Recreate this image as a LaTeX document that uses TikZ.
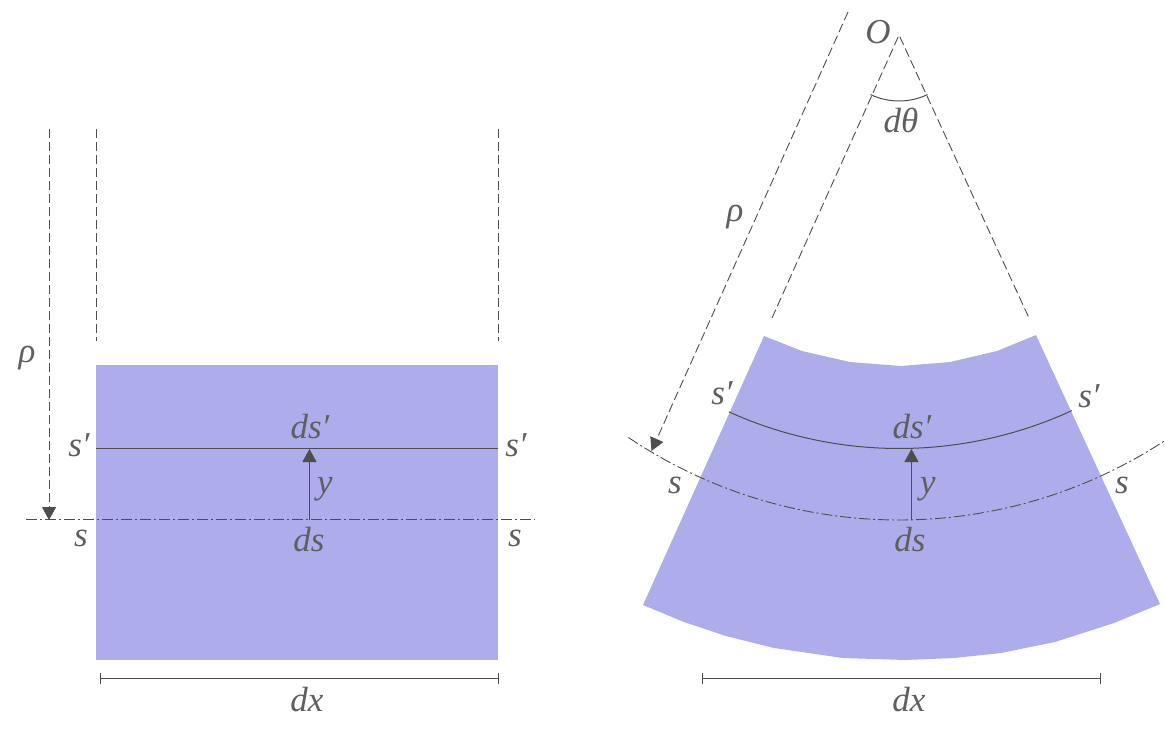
\documentclass[tikz,border=0pt]{standalone}
\usepackage{fontspec}
\setmainfont{Liberation Serif}
\usetikzlibrary{arrows.meta}
\definecolor{fillc}{HTML}{AEADEC}
\definecolor{linec}{HTML}{4D4D4D}
\definecolor{textc}{HTML}{5F5F5F}
\tikzset{
  lab/.style={anchor=base,inner sep=0pt,text=textc,font=\fontsize{35}{35}\selectfont\itshape},
  body/.style={fill=fillc,draw=none},
  line/.style={draw=linec,line width=1.0pt},
  dim/.style={draw=linec,line width=0.85pt,{Bar[width=11pt,length=0pt]}-{Bar[width=11pt,length=0pt]}},
  guide/.style={draw=linec,line width=0.9pt,dash pattern=on 9pt off 4pt},
  axis/.style={draw=linec,line width=0.9pt,dash pattern=on 11pt off 3pt on 2pt off 3pt},
  tip/.style={-{Triangle[length=13pt,width=14pt,color=linec]}}
}
\begin{document}
\begin{tikzpicture}[x=1pt,y=-1pt]
\useasboundingbox (0,0) rectangle (1165,740);
% left
\path[body] (96,365) rectangle (498,660);
\coordinate (LA) at (49,129); \coordinate (LB) at (49,520);
\coordinate (LC) at (96,129); \coordinate (LD) at (96,341);
\coordinate (LE) at (498,129); \coordinate (LF) at (498,341);
\coordinate (LG) at (26,519.5); \coordinate (LH) at (535,519.5);
\coordinate (LI) at (96,448.5); \coordinate (LJ) at (498,448.5);
\coordinate (LK) at (309.5,519.5); \coordinate (LL) at (309.5,449);
\coordinate (LM) at (99.5,678); \coordinate (LN) at (498.5,678);
\draw[guide,tip] (LA) -- (LB);
\draw[guide] (LC) -- (LD);
\draw[guide] (LE) -- (LF);
\draw[axis] (LG) -- (LH);
\draw[line] (LI) -- (LJ);
\draw[line,tip] (LK) -- (LL);
\draw[dim] (LM) -- (LN);
\node[lab] (l1) at (27,362) {ρ};
\node[lab] (l2) at (79,456) {s′};
\node[lab] (l3) at (81,546) {s};
\node[lab] (l4) at (310,438) {ds′};
\node[lab] (l5) at (325,493) {y};
\node[lab] (l6) at (309,551) {ds};
\node[lab] (l7) at (516,456) {s′};
\node[lab] (l8) at (515,546) {s};
\node[lab] (l9) at (307,711) {dx};
% right
\path[body] (764,336) -- (802,351) -- (850,362) -- (901,366) -- (950,362) -- (997,351) -- (1036,335)
  -- (1160,604) -- (1114,623) -- (1055,642) -- (1001,653) -- (954,658) -- (905,660) -- (843,658)
  -- (774,648) -- (726,636) -- (684,622) -- (643,605) -- cycle;
\coordinate (O) at (899,35);
\coordinate (RA) at (772,318); \coordinate (RB) at (1029,318);
\coordinate (RC) at (848,12); \coordinate (RD) at (651.5,451);
\coordinate (RK) at (911.5,519.5); \coordinate (RL) at (911.5,449);
\coordinate (RM) at (701.5,678); \coordinate (RN) at (1101,678);
\draw[guide] (RA) -- (O) -- (RB);
\draw[guide,tip] (RC) -- (RD);
\draw[axis] plot[domain=-33.9:33.4,samples=80,smooth] ({899+485*sin(\x)},{35+485*cos(\x)});
\draw[line] plot[domain=-24.3:24.7,samples=60,smooth] ({899+413.5*sin(\x)},{35+413.5*cos(\x)});
\draw[line] plot[domain=-25.5:25.5,samples=30,smooth] ({899+66*sin(\x)},{35+66*cos(\x)});
\draw[line,tip] (RK) -- (RL);
\draw[dim] (RM) -- (RN);
\node[lab] (r1) at (878,43) {O};
\node[lab] (r2) at (901,132) {dθ};
\node[lab] (r3) at (735,221) {ρ};
\node[lab] (r4) at (722,404) {s′};
\node[lab] (r5) at (1089,407) {s′};
\node[lab] (r6) at (675,493) {s};
\node[lab] (r7) at (1122,493) {s};
\node[lab] (r8) at (912,438) {ds′};
\node[lab] (r9) at (928,493) {y};
\node[lab] (r10) at (910,551) {ds};
\node[lab] (r11) at (909,711) {dx};
\end{tikzpicture}
\end{document}
